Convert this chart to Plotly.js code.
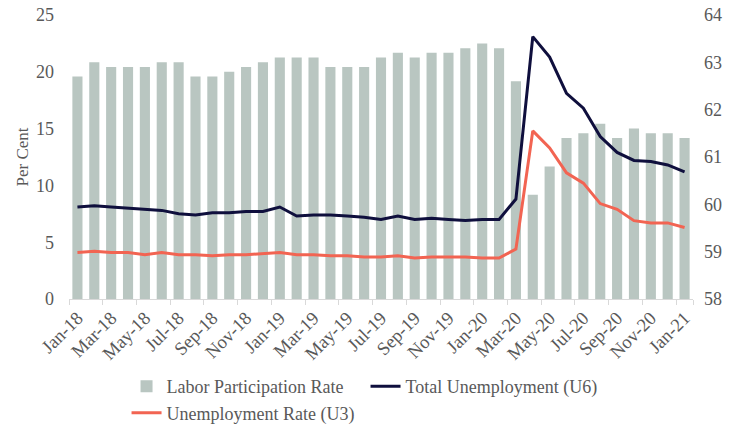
<!DOCTYPE html>
<html>
<head>
<meta charset="utf-8">
<script src="https://cdn.plot.ly/plotly-3.0.1.min.js"></script>
<style>html,body{margin:0;padding:0;background:#fff;}#chart{width:740px;height:428px;}</style>
</head>
<body>
<div id="chart"></div>
<script>
const months = ["Jan-18","Feb-18","Mar-18","Apr-18","May-18","Jun-18","Jul-18","Aug-18","Sep-18","Oct-18","Nov-18","Dec-18",
"Jan-19","Feb-19","Mar-19","Apr-19","May-19","Jun-19","Jul-19","Aug-19","Sep-19","Oct-19","Nov-19","Dec-19",
"Jan-20","Feb-20","Mar-20","Apr-20","May-20","Jun-20","Jul-20","Aug-20","Sep-20","Oct-20","Nov-20","Dec-20","Jan-21"];
const laborParticipation = [62.7,63.0,62.9,62.9,62.9,63.0,63.0,62.7,62.7,62.8,62.9,63.0,
63.1,63.1,63.1,62.9,62.9,62.9,63.1,63.2,63.1,63.2,63.2,63.3,
63.4,63.3,62.6,60.2,60.8,61.4,61.5,61.7,61.4,61.6,61.5,61.5,61.4];
const u6 = [8.1,8.2,8.1,8.0,7.9,7.8,7.5,7.4,7.6,7.6,7.7,7.7,
8.1,7.3,7.4,7.4,7.3,7.2,7.0,7.3,7.0,7.1,7.0,6.9,
7.0,7.0,8.8,23.1,21.3,18.1,16.8,14.3,12.9,12.2,12.1,11.8,11.2];
const u3 = [4.1,4.2,4.1,4.1,3.9,4.1,3.9,3.9,3.8,3.9,3.9,4.0,
4.1,3.9,3.9,3.8,3.8,3.7,3.7,3.8,3.6,3.7,3.7,3.7,
3.6,3.6,4.4,14.8,13.3,11.1,10.2,8.4,7.9,6.9,6.7,6.7,6.3];
const tickLabels = months.filter((m,i)=>i%2===0);

const fontFam = "Liberation Serif, DejaVu Serif, serif";
const grey = "#595959";

const traces = [
  {type:"bar", name:"Labor Participation Rate", x:months, y:laborParticipation, yaxis:"y",
   marker:{color:"#b9c6c1"}},
  {type:"scatter", mode:"lines", name:"Total Unemployment (U6)", x:months, y:u6, yaxis:"y2",
   line:{color:"#0f0f3d", width:3}},
  {type:"scatter", mode:"lines", name:"Unemployment Rate (U3)", x:months, y:u3, yaxis:"y2",
   line:{color:"#f26452", width:3}}
];

const layout = {
  width:740, height:428,
  margin:{l:69, r:47, t:15, b:129},
  paper_bgcolor:"#fff", plot_bgcolor:"#fff",
  font:{family:fontFam, color:grey, size:15},
  bargap:0.4,
  showlegend:true,
  legend:{orientation:"h", x:0.171, xref:"container", xanchor:"left",
          y:0.14, yref:"container", yanchor:"top",
          font:{size:18, color:grey}, entrywidth:194, tracegroupgap:0, itemwidth:30},
  xaxis:{type:"category", tickmode:"array", tickvals:tickLabels, ticktext:tickLabels,
         tickangle:-45, tickson:"boundaries", ticks:"outside", ticklen:5, tickcolor:"#d9d9d9",
         showline:true, linecolor:"#d9d9d9", linewidth:1, showgrid:false,
         tickfont:{size:18.5, color:grey}},
  yaxis:{range:[58,64], dtick:1, side:"right", showgrid:false, zeroline:false,
         showline:false, tickfont:{size:18, color:grey}, ticks:"", ticklabelstandoff:10},
  yaxis2:{range:[0,25], dtick:5, overlaying:"y", side:"left", showgrid:false, zeroline:false,
          showline:false, tickfont:{size:18, color:grey}, ticks:"", ticklabelstandoff:14,
          title:{text:"Per Cent", font:{size:17, color:grey}, standoff:3}}
};

Plotly.newPlot("chart", traces, layout, {displayModeBar:false, staticPlot:true});
</script>
</body>
</html>
